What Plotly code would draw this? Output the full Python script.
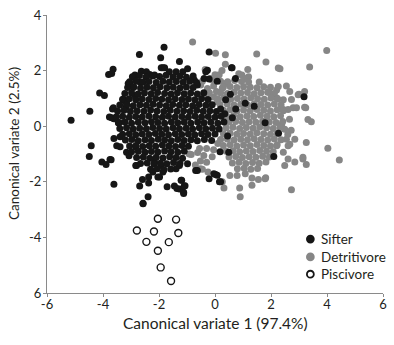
import plotly.graph_objects as go

# ---- Data (canonical variate 1, canonical variate 2) ----
sifter_pts = [
    # outlying points
    (-5.14, 0.21), (-4.47, 0.54), (-4.12, 1.19), (-3.95, 1.10), (-3.80, 1.86), (-3.64, 2.05),
    (-3.69, 1.90), (-3.77, 0.33), (-3.61, 0.27), (-3.66, 0.62), (-3.63, 0.66), (-3.69, 0.30),
    (-3.45, 0.12), (-3.42, 0.12), (-2.70, 2.58), (-1.82, 2.84), (-1.94, 2.46), (-0.21, 2.67),
    (-1.27, 2.33), (-1.86, 2.10), (-3.10, 1.54), (-2.85, 1.82), (-3.24, 0.94), (-3.17, 0.69),
    (-2.84, 1.07), (-2.63, 1.98), (-2.45, 1.96), (-2.33, 1.86), (-2.16, 1.84), (-1.92, 2.10),
    (-1.80, 2.10), (-1.63, 1.96), (-1.39, 1.96), (-1.15, 1.96), (-0.98, 2.07), (-2.86, 1.84),
    (-3.04, 1.51), (-2.92, 1.39), (-2.69, 1.60), (-3.28, 0.95), (-3.16, 0.83), (-0.74, 1.66),
    (-0.63, 1.48), (-0.39, 1.72), (-0.27, 2.01), (-0.33, 1.96), (-0.21, 1.70), (0.08, 1.62),
    (0.59, 2.10), (0.73, 1.72), (0.74, 0.62), (1.08, 0.83), (1.40, 0.72), (1.79, 0.12),
    (2.27, -0.25), (2.10, -1.09), (3.18, 1.06), (0.49, -0.94), (0.18, -0.92),
    (0.02, -1.74), (0.16, -2.00), (0.20, -2.00), (-0.21, -1.89), (0.08, -1.76), (-0.04, -1.71),
    (-1.21, -1.94), (-1.07, -2.14), (-1.12, -2.38), (-1.27, -2.26), (-1.12, -2.42),
    (-4.42, -0.70), (-4.49, -1.09), (-4.04, -1.29), (-3.89, -1.38), (-3.71, -1.21), (-3.75, -1.20),
    (-3.61, -2.09), (-3.51, -0.70), (-3.39, -0.74), (-3.61, -0.44), (-3.39, -0.38),
    (-3.16, -0.94), (-3.07, -1.06), (-2.83, -0.74), (-2.83, -1.41), (-2.80, -1.41),
    (-2.69, -2.15), (-2.59, -1.92), (-2.57, -2.77), (-2.57, -2.79), (-2.39, -2.54), (-2.37, -2.04),
    (-2.37, -1.83), (-1.71, -2.18), (-1.45, -2.15), (-1.36, -2.24), (-1.19, -1.94), (-1.10, -2.15),
    (-2.16, -1.29), (-1.92, -1.41), (-1.98, -1.83), (-1.86, -1.65), (-2.22, -1.65), (-2.04, -1.83),
    (-1.39, -1.53), (-1.27, -1.41), (-0.98, -1.35), (-0.69, -1.59), (-0.63, -1.59),
    (0.61, 2.10), (0.35, 0.45), (0.62, 0.30), (0.45, -0.35), (0.38, 0.95), (0.55, 1.15),
    # dense core
    (-2.95, 1.78), (-2.70, 1.82), (-2.47, 1.76), (-2.22, 1.81), (-1.98, 1.79), (-1.75, 1.83),
    (-1.50, 1.77), (-1.26, 1.80), (-1.02, 1.76), (-0.78, 1.81),
    (-3.05, 1.60), (-2.82, 1.62), (-2.58, 1.58), (-2.36, 1.61), (-2.10, 1.57), (-1.86, 1.62),
    (-1.63, 1.59), (-1.38, 1.61), (-1.14, 1.58), (-0.90, 1.62), (-0.66, 1.57),
    (-3.12, 1.39), (-2.90, 1.41), (-2.66, 1.37), (-2.43, 1.40), (-2.20, 1.38), (-1.96, 1.42),
    (-1.72, 1.38), (-1.49, 1.40), (-1.25, 1.37), (-1.02, 1.41), (-0.78, 1.39),
    (-3.22, 1.18), (-2.98, 1.20), (-2.75, 1.16), (-2.52, 1.19), (-2.28, 1.17), (-2.05, 1.21),
    (-1.80, 1.18), (-1.57, 1.16), (-1.34, 1.20), (-1.10, 1.17), (-0.87, 1.19), (-0.63, 1.16),
    (-0.40, 1.20),
    (-3.30, 0.97), (-3.06, 0.99), (-2.83, 0.95), (-2.60, 0.98), (-2.36, 0.96), (-2.12, 1.00),
    (-1.90, 0.97), (-1.66, 0.95), (-1.42, 0.99), (-1.18, 0.96), (-0.95, 0.98), (-0.72, 0.95),
    (-0.48, 0.99), (-0.25, 0.96),
    (-3.40, 0.76), (-3.15, 0.78), (-2.92, 0.74), (-2.68, 0.77), (-2.45, 0.75), (-2.21, 0.79),
    (-1.98, 0.76), (-1.74, 0.74), (-1.51, 0.78), (-1.27, 0.75), (-1.04, 0.77), (-0.80, 0.74),
    (-0.57, 0.78), (-0.33, 0.75), (-0.10, 0.77),
    (-3.48, 0.55), (-3.25, 0.57), (-3.02, 0.53), (-2.78, 0.56), (-2.54, 0.54), (-2.30, 0.58),
    (-2.07, 0.55), (-1.83, 0.53), (-1.60, 0.57), (-1.36, 0.54), (-1.12, 0.56), (-0.89, 0.53),
    (-0.65, 0.57), (-0.42, 0.54), (-0.18, 0.56), (0.05, 0.53), (0.20, 0.62),
    (-3.52, 0.34), (-3.30, 0.36), (-3.06, 0.32), (-2.83, 0.35), (-2.60, 0.33), (-2.36, 0.37),
    (-2.12, 0.34), (-1.88, 0.32), (-1.66, 0.36), (-1.42, 0.33), (-1.18, 0.35), (-0.95, 0.32),
    (-0.71, 0.36), (-0.48, 0.33), (-0.24, 0.35), (0.00, 0.32), (0.22, 0.36),
    (-3.45, 0.13), (-3.22, 0.15), (-2.98, 0.11), (-2.74, 0.14), (-2.50, 0.12), (-2.27, 0.16),
    (-2.04, 0.13), (-1.80, 0.11), (-1.56, 0.15), (-1.33, 0.12), (-1.10, 0.14), (-0.86, 0.11),
    (-0.62, 0.15), (-0.39, 0.12), (-0.15, 0.14), (0.10, 0.11), (0.32, 0.15),
    (-3.40, -0.08), (-3.16, -0.06), (-2.92, -0.10), (-2.69, -0.07), (-2.45, -0.09), (-2.22, -0.05),
    (-1.98, -0.08), (-1.74, -0.10), (-1.50, -0.06), (-1.27, -0.09), (-1.03, -0.07), (-0.80, -0.10),
    (-0.56, -0.06), (-0.33, -0.09), (-0.09, -0.07), (0.15, -0.10),
    (-3.30, -0.29), (-3.06, -0.27), (-2.83, -0.31), (-2.60, -0.28), (-2.36, -0.30), (-2.13, -0.26),
    (-1.90, -0.29), (-1.66, -0.31), (-1.42, -0.27), (-1.19, -0.30), (-0.95, -0.28), (-0.72, -0.31),
    (-0.48, -0.27), (-0.25, -0.30), (0.00, -0.28),
    (-3.20, -0.50), (-2.97, -0.48), (-2.74, -0.52), (-2.50, -0.49), (-2.27, -0.51), (-2.03, -0.47),
    (-1.80, -0.50), (-1.56, -0.52), (-1.33, -0.48), (-1.10, -0.51), (-0.86, -0.49), (-0.63, -0.52),
    (-0.38, -0.48), (-0.12, -0.51),
    (-3.05, -0.71), (-2.82, -0.69), (-2.58, -0.73), (-2.35, -0.70), (-2.12, -0.72), (-1.88, -0.68),
    (-1.65, -0.71), (-1.41, -0.73), (-1.18, -0.69), (-0.95, -0.72),
    (-2.98, -0.92), (-2.74, -0.90), (-2.50, -0.94), (-2.27, -0.91), (-2.04, -0.93), (-1.80, -0.89),
    (-1.57, -0.92), (-1.33, -0.94), (-1.10, -0.90),
    (-2.80, -1.13), (-2.56, -1.11), (-2.33, -1.15), (-2.10, -1.12), (-1.86, -1.14), (-1.62, -1.10),
    (-1.39, -1.13), (-1.16, -1.15),
    (-2.66, -1.34), (-2.42, -1.32), (-2.18, -1.36), (-1.95, -1.33), (-1.72, -1.35), (-1.48, -1.31),
    (-1.25, -1.34),
    (-2.30, -1.55), (-2.06, -1.53), (-1.82, -1.57), (-1.58, -1.54),
]

detritivore_pts = [
    # outlying points
    (-0.80, 3.03), (0.02, 2.62), (0.37, 2.57), (1.49, 2.60), (1.82, 2.31), (2.26, 2.09),
    (3.38, 2.13), (3.99, 2.72), (0.37, 2.23), (-0.35, 2.04), (0.85, 1.89), (1.17, 2.04),
    (1.20, 1.78), (1.58, 1.59), (2.55, 1.45), (3.00, 1.15), (3.24, 0.66), (3.44, 0.16),
    (2.73, 0.96), (2.20, 1.30), (1.94, 1.21), (2.44, 0.60), (2.79, 0.66), (2.32, 2.07),
    (0.96, 1.84), (1.08, 1.72), (2.26, 1.43), (2.67, 1.25), (2.97, 1.13), (3.20, 1.25),
    (2.21, 1.01), (2.44, 0.95), (2.61, 0.60), (2.91, 0.66), (3.20, 0.68), (3.32, 0.24),
    (-0.10, 1.66), (0.26, 1.37), (0.37, 1.54), (-0.51, 1.48), (-0.27, 1.36), (-0.15, 1.72),
    (-0.17, 0.77), (-0.40, 1.10), (2.66, 0.25), (2.72, -0.15), (2.60, -0.30),
    (-0.05, 1.45), (0.05, 1.25), (-0.05, 1.05), (0.08, 0.88), (0.00, 1.85), (0.15, 1.85),
    (0.25, 2.00), (-0.45, 1.62), (-0.20, 1.20),
    (3.26, -0.59), (4.03, -0.79), (4.44, -1.22), (2.73, -2.29), (2.85, -1.29), (3.14, -1.18),
    (3.26, -1.38), (2.61, -0.70), (2.20, -0.70), (2.44, -0.94), (1.81, -1.85), (1.55, -1.92),
    (1.32, -1.86), (0.88, -2.22), (1.32, -2.12), (0.32, -2.22), (0.26, -2.00), (0.53, -1.77),
    (0.79, -1.77), (1.08, -1.71), (0.90, -2.54), (1.79, -1.89), (2.55, -0.47), (2.67, -0.65),
    (2.85, -0.47), (3.14, -1.12), (2.61, -1.18), (2.49, -1.41), (2.38, 0.06), (2.49, -0.11),
    (-0.92, -1.00), (-0.52, -1.53), (-0.85, -1.02), (-0.62, -0.95), (-0.40, -1.05),
    (-0.52, -1.25), (-0.30, -1.30), (-0.70, -1.40), (-0.45, -1.55), (-0.25, -1.65),
    (-0.10, -1.10), (-0.55, -0.80), (-0.30, -0.80), (-0.05, -0.85), (0.10, -0.62),
    # dense core
    (0.20, 1.62), (0.45, 1.60), (0.70, 1.64), (0.95, 1.61), (1.20, 1.59),
    (0.30, 1.41), (0.54, 1.43), (0.78, 1.39), (1.02, 1.42), (1.26, 1.40), (1.50, 1.38),
    (1.74, 1.42), (1.98, 1.40),
    (0.20, 1.20), (0.44, 1.18), (0.68, 1.22), (0.92, 1.19), (1.16, 1.21), (1.40, 1.17),
    (1.64, 1.20), (1.88, 1.22), (2.12, 1.18),
    (0.10, 0.99), (0.32, 1.01), (0.56, 0.97), (0.80, 1.00), (1.04, 0.98), (1.28, 1.02),
    (1.52, 0.99), (1.76, 0.97), (2.00, 1.01), (2.24, 0.98),
    (0.18, 0.78), (0.44, 0.80), (0.68, 0.76), (0.92, 0.79), (1.16, 0.77), (1.40, 0.81),
    (1.64, 0.78), (1.88, 0.76), (2.12, 0.80), (2.36, 0.77),
    (0.30, 0.57), (0.54, 0.59), (0.78, 0.55), (1.02, 0.58), (1.26, 0.56), (1.50, 0.60),
    (1.74, 0.57), (1.98, 0.55), (2.22, 0.59), (2.44, 0.56),
    (0.42, 0.36), (0.66, 0.38), (0.90, 0.34), (1.14, 0.37), (1.38, 0.35), (1.62, 0.39),
    (1.86, 0.36), (2.10, 0.34), (2.34, 0.38),
    (0.50, 0.15), (0.74, 0.17), (0.98, 0.13), (1.22, 0.16), (1.46, 0.14), (1.70, 0.18),
    (1.94, 0.15), (2.18, 0.13), (2.42, 0.17),
    (0.40, -0.06), (0.64, -0.04), (0.88, -0.08), (1.12, -0.05), (1.36, -0.07), (1.60, -0.03),
    (1.84, -0.06), (2.08, -0.08), (2.32, -0.04),
    (0.30, -0.27), (0.54, -0.25), (0.78, -0.29), (1.02, -0.26), (1.26, -0.28), (1.50, -0.24),
    (1.74, -0.27), (1.98, -0.29), (2.22, -0.25),
    (0.20, -0.48), (0.44, -0.46), (0.68, -0.50), (0.92, -0.47), (1.16, -0.49), (1.40, -0.45),
    (1.64, -0.48), (1.88, -0.50), (2.12, -0.46), (2.36, -0.49),
    (0.30, -0.69), (0.54, -0.67), (0.78, -0.71), (1.02, -0.68), (1.26, -0.70), (1.50, -0.66),
    (1.74, -0.69), (1.98, -0.71), (2.22, -0.67),
    (0.40, -0.90), (0.64, -0.88), (0.88, -0.92), (1.12, -0.89), (1.36, -0.91), (1.60, -0.87),
    (1.84, -0.90), (2.08, -0.92),
    (0.50, -1.11), (0.74, -1.09), (0.98, -1.13), (1.22, -1.10), (1.46, -1.12), (1.70, -1.08),
    (1.94, -1.11),
    (0.62, -1.32), (0.86, -1.30), (1.10, -1.34), (1.34, -1.31), (1.58, -1.33), (1.82, -1.29),
    (0.80, -1.53), (1.04, -1.51), (1.28, -1.55), (1.52, -1.52),
]

piscivore_pts = [
    (-2.04, -3.33), (-1.39, -3.36), (-2.79, -3.75), (-2.18, -3.79), (-1.31, -3.84),
    (-2.45, -4.16), (-1.65, -4.17), (-2.04, -4.48), (-1.94, -5.08), (-1.57, -5.57),
]

group_names = ["Sifter", "Detritivore", "Piscivore"]

x_ticks = [-6, -4, -2, 0, 2, 4, 6]
x_ticktext = ["-6", "-4", "-2", "0", "2", "4", "6"]
y_ticks = [-6, -4, -2, 0, 2, 4]
y_ticktext = ["6", "-4", "-2", "0", "2", "4"]

x_title = "Canonical variate 1 (97.4%)"
y_title = "Canonical variate 2 (2.5%)"

BLACK = "#161616"
GRAY = "#868686"
TEXT = "#231f20"
AXIS = "#8a8a8a"
FONT = "Lato"

# plot-area geometry (pixels) used for layout placement only
W, H = 394, 345
ML, MR, MT, MB = 47, 7, 12, 52
PW, PH = W - ML - MR, H - MT - MB


def pxx(p):
    return (p - ML) / PW


def pxy(p):
    return (H - MB - p) / PH


def split(pts):
    return [p[0] for p in pts], [p[1] for p in pts]


fig = go.Figure()

dx, dy = split(detritivore_pts)
sx, sy = split(sifter_pts)
qx, qy = split(piscivore_pts)

fig.add_trace(go.Scatter(x=dx, y=dy, mode="markers", name=group_names[1], showlegend=False,
                         marker=dict(size=7, color=GRAY, line=dict(width=0))))
fig.add_trace(go.Scatter(x=sx, y=sy, mode="markers", name=group_names[0], showlegend=False,
                         marker=dict(size=7, color=BLACK, line=dict(width=0))))
fig.add_trace(go.Scatter(x=qx, y=qy, mode="markers", name=group_names[2], showlegend=False,
                         marker=dict(size=7, color="white", line=dict(width=1.4, color=BLACK))))

# custom legend (symbol + label), placed as in the reference
legend_rows = [238.5, 256.5, 274.0]
legend_fill = [BLACK, GRAY, "white"]
legend_line = [0, 0, 1.8]
sym_cx, sym_r, text_x = 313.5, 4.4, 322.5
shapes = []
annotations = []
for name, ry, fill, lw in zip(group_names, legend_rows, legend_fill, legend_line):
    r = sym_r - lw / 2
    shapes.append(dict(type="circle", xref="paper", yref="paper",
                       x0=pxx(sym_cx - r), x1=pxx(sym_cx + r),
                       y0=pxy(ry + r), y1=pxy(ry - r),
                       fillcolor=fill, line=dict(color=BLACK, width=lw) if lw else dict(width=0)))
    annotations.append(dict(text=name, xref="paper", yref="paper", x=pxx(text_x), y=pxy(ry),
                            xanchor="left", yanchor="middle", showarrow=False,
                            font=dict(family=FONT, size=13.5, color=TEXT)))

annotations.append(dict(text=x_title, xref="paper", yref="paper", x=0.5, y=pxy(323),
                        xanchor="center", yanchor="middle", showarrow=False,
                        font=dict(family=FONT, size=15.5, color=TEXT)))
annotations.append(dict(text=y_title, xref="paper", yref="paper", x=pxx(13), y=pxy(142),
                        xanchor="center", yanchor="middle", showarrow=False, textangle=-90,
                        font=dict(family=FONT, size=13.5, color=TEXT)))

axis_common = dict(
    showgrid=False, zeroline=False, showline=True, linecolor=AXIS, linewidth=1,
    ticks="outside", ticklen=3, tickcolor=AXIS, tickwidth=1,
    tickfont=dict(family=FONT, size=13, color=TEXT),
)

fig.update_layout(
    width=W, height=H,
    margin=dict(l=ML, r=MR, t=MT, b=MB),
    paper_bgcolor="white", plot_bgcolor="white",
    font=dict(family=FONT, color=TEXT),
    xaxis=dict(range=[-6, 6], tickmode="array", tickvals=x_ticks, ticktext=x_ticktext,
               ticklabelstandoff=-4, **axis_common),
    yaxis=dict(range=[-6, 4], tickmode="array", tickvals=y_ticks, ticktext=y_ticktext,
               ticklabelstandoff=-1, **axis_common),
    shapes=shapes,
    annotations=annotations,
    showlegend=False,
)

fig.write_html("out.html")
